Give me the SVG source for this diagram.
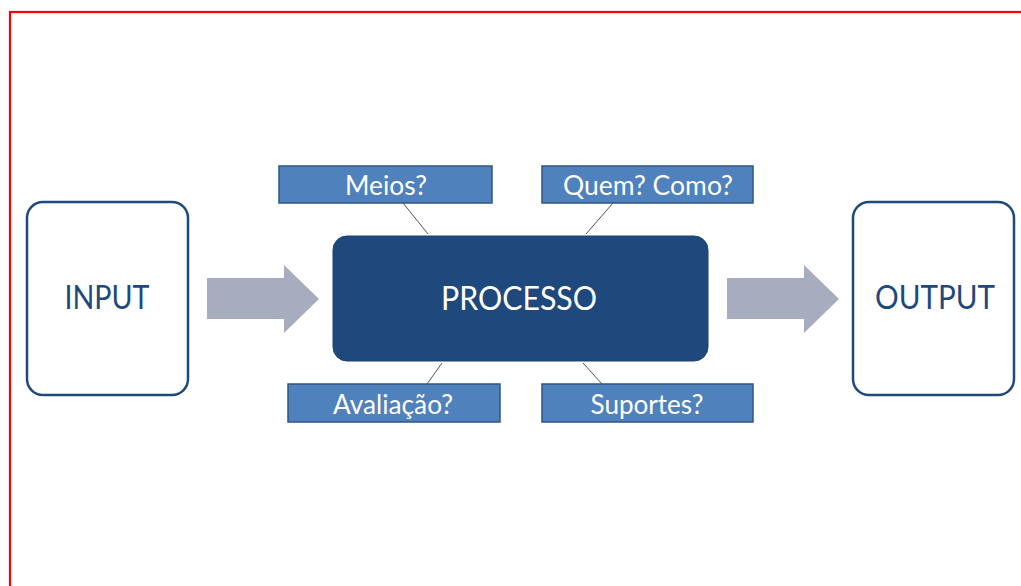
<svg xmlns="http://www.w3.org/2000/svg" width="1021" height="586" viewBox="0 0 1021 586">
<style>
.big{fill:#fff;stroke:#1f497d;stroke-width:2.5}
.bigt{font-family:Lato,"Open Sans",sans-serif;font-size:32px;fill:#1f497d;text-anchor:middle}
.proc{fill:#1f497d;stroke:#1c4272;stroke-width:1}
.proct{font-family:Lato,"Open Sans",sans-serif;font-size:32px;fill:#fff;text-anchor:middle}
.q{fill:#4f81bd;stroke:#2f5685;stroke-width:1.5}
.qt{font-family:Lato,"Open Sans",sans-serif;font-size:26px;fill:#fff;text-anchor:middle}
.arr{fill:#a7adbe}
.ln{stroke:#555;stroke-width:1;fill:none}
</style>
<rect x="10" y="12" width="1030" height="600" fill="none" stroke="#ff0000" stroke-width="2.2"/>
<g id="connectors">
<polygon class="arr" points="207,278 284,278 284,265 319,299 284,333 284,319 207,319"/>
<polygon class="arr" points="727,278 804,278 804,265 839,299 804,333 804,319 727,319"/>
<line class="ln" x1="403" y1="203" x2="428" y2="234"/>
<line class="ln" x1="613" y1="203" x2="586" y2="234"/>
<line class="ln" x1="442" y1="363" x2="427" y2="384"/>
<line class="ln" x1="583" y1="363" x2="602" y2="384"/>
</g>
<g id="input">
<rect class="big" x="27" y="202" width="161" height="193" rx="16"/>
<text class="bigt" x="107" y="309" textLength="85" lengthAdjust="spacingAndGlyphs">INPUT</text>
</g>
<g id="output">
<rect class="big" x="853" y="202" width="161" height="193" rx="16"/>
<text class="bigt" x="935" y="309" textLength="120" lengthAdjust="spacingAndGlyphs">OUTPUT</text>
</g>
<g id="processo">
<rect class="proc" x="333" y="236" width="375" height="125" rx="14"/>
<text class="proct" x="519" y="310" textLength="156" lengthAdjust="spacingAndGlyphs">PROCESSO</text>
</g>
<g id="meios">
<rect class="q" x="279" y="166" width="213" height="37"/>
<text class="qt" x="386" y="195" textLength="82" lengthAdjust="spacingAndGlyphs">Meios?</text>
</g>
<g id="quem">
<rect class="q" x="542" y="166" width="211" height="37"/>
<text class="qt" x="648" y="195" textLength="170" lengthAdjust="spacingAndGlyphs">Quem? Como?</text>
</g>
<g id="avaliacao">
<rect class="q" x="288" y="384" width="212" height="38"/>
<text class="qt" x="393" y="414" textLength="120" lengthAdjust="spacingAndGlyphs">Avaliação?</text>
</g>
<g id="suportes">
<rect class="q" x="542" y="384" width="211" height="38"/>
<text class="qt" x="647" y="414" textLength="113" lengthAdjust="spacingAndGlyphs">Suportes?</text>
</g>
</svg>
